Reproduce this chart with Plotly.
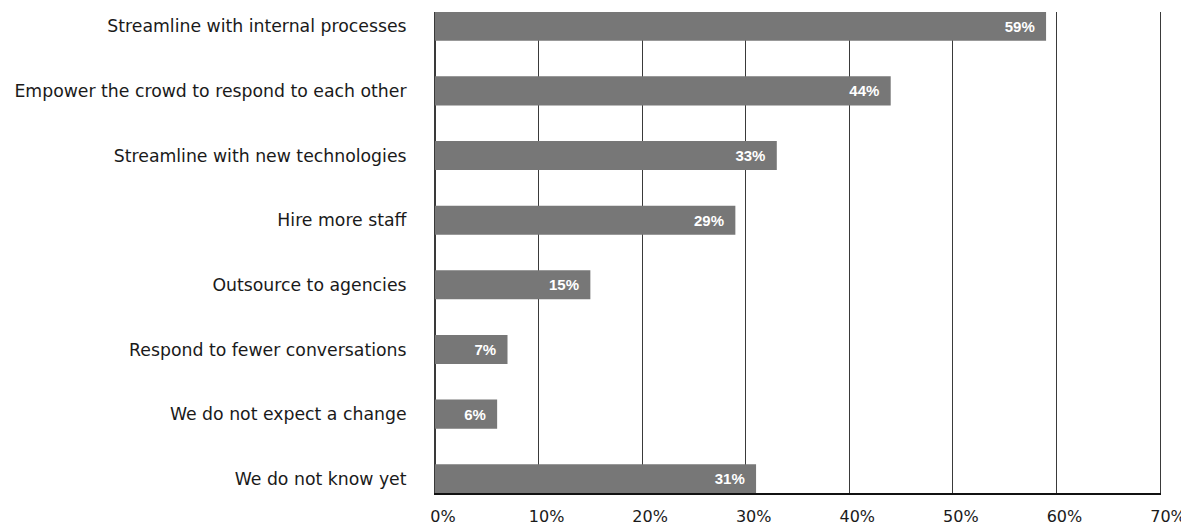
import plotly.graph_objects as go

categories = [
    "Streamline with internal processes",
    "Empower the crowd to respond to each other",
    "Streamline with new technologies",
    "Hire more staff",
    "Outsource to agencies",
    "Respond to fewer conversations",
    "We do not expect a change",
    "We do not know yet",
]
values = [59, 44, 33, 29, 15, 7, 6, 31]
x_ticks = [0, 10, 20, 30, 40, 50, 60, 70]
x_tick_labels = ["0%", "10%", "20%", "30%", "40%", "50%", "60%", "70%"]

bar_labels = [f"{v}%\u00a0\u00a0" for v in values]

fig = go.Figure(
    go.Bar(
        x=values,
        y=categories,
        orientation="h",
        text=bar_labels,
        textposition="inside",
        insidetextanchor="end",
        textangle=0,
        textfont=dict(family="Liberation Sans, Arial, sans-serif", size=15, color="white", weight="bold"),
        marker=dict(color="#777777", line=dict(width=0)),
        hoverinfo="skip",
    )
)

# page body has an 8px margin, so the figure is sized/offset to compensate
fig.update_layout(
    width=1181,
    height=517,
    margin=dict(l=427, r=29, t=4, b=32, autoexpand=False),
    paper_bgcolor="white",
    plot_bgcolor="white",
    bargap=0.55,
    showlegend=False,
    font=dict(family="DejaVu Sans, sans-serif", color="#1a1a1a"),
)

fig.update_xaxes(
    range=[0, 70],
    tickvals=x_ticks,
    ticktext=x_tick_labels,
    showgrid=True,
    gridcolor="#3a3a3a",
    gridwidth=1,
    zeroline=True,
    zerolinecolor="#3a3a3a",
    zerolinewidth=1,
    showline=True,
    linecolor="#111111",
    linewidth=2,
    ticks="",
    ticklabelshift=8,
    ticklabelstandoff=8,
    automargin=False,
    tickfont=dict(family="DejaVu Sans, sans-serif", size=16, color="#1a1a1a"),
    fixedrange=True,
)

fig.update_yaxes(
    categoryorder="array",
    categoryarray=categories,
    range=[len(categories) - 1 + 0.22, -0.22],
    showgrid=False,
    zeroline=False,
    showline=True,
    mirror=True,
    linecolor="#3a3a3a",
    linewidth=1,
    ticks="",
    ticklabelstandoff=24,
    automargin=False,
    tickfont=dict(family="DejaVu Sans, sans-serif", size=17.3, color="#1a1a1a"),
    fixedrange=True,
)

fig.write_html("out.html")
